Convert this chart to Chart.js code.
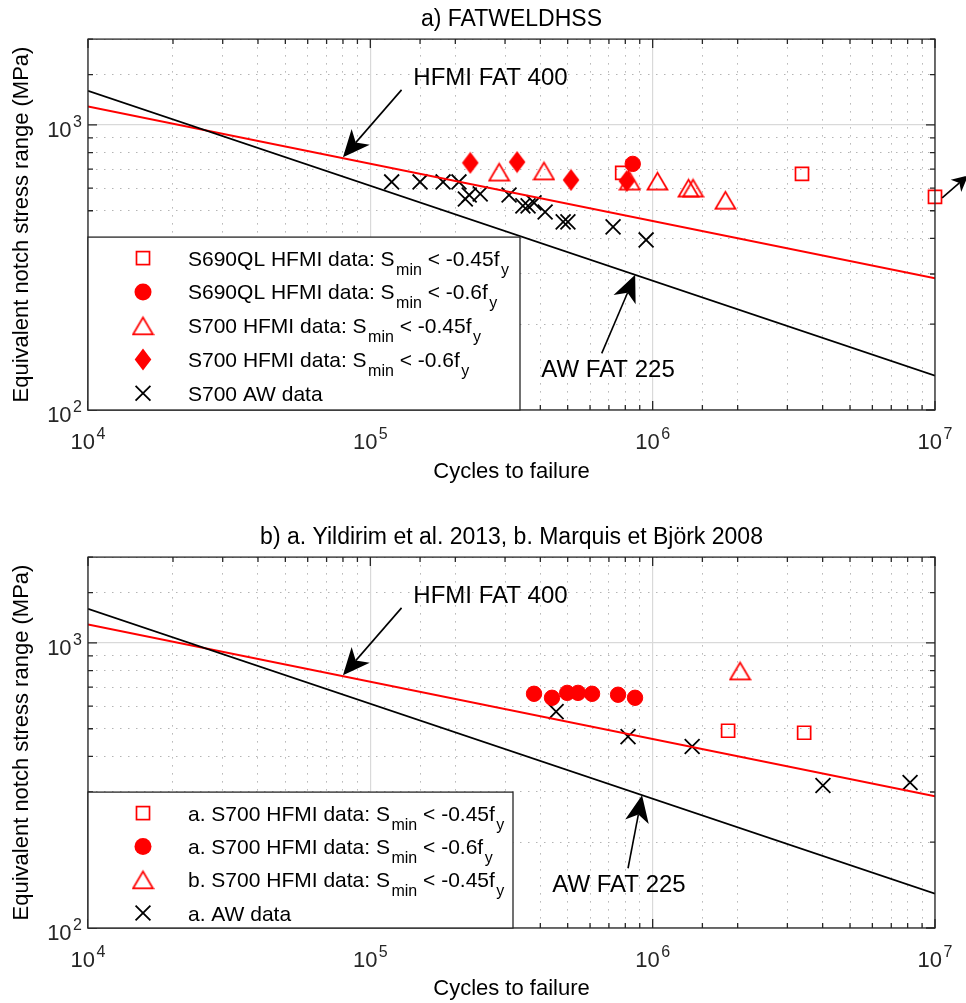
<!DOCTYPE html>
<html>
<head>
<meta charset="utf-8">
<title>Equivalent notch stress range vs cycles to failure</title>
<script src="https://cdn.jsdelivr.net/npm/chart.js@4.4.1/dist/chart.umd.min.js"></script>
<style>
html,body{margin:0;padding:0;background:#ffffff;}
body{width:966px;height:1003px;position:relative;overflow:hidden;}
canvas{position:absolute;left:0;display:block;}
#c1{top:0;}
#c2{top:518px;}
</style>
</head>
<body>
<canvas id="c1" width="966" height="518"></canvas>
<canvas id="c2" width="966" height="485"></canvas>
<script>
// ---------------- data ----------------
const xDecades = [1e4, 1e5, 1e6, 1e7];
const xTickLabels = [['10','4'], ['10','5'], ['10','6'], ['10','7']];
const yDecades = [1e2, 1e3];
const yTickLabels = [['10','2'], ['10','3']];

const xAxisTitle = 'Cycles to failure';
const yAxisTitle = 'Equivalent notch stress range (MPa)';

// design curves (end points)
const hfmiFat400 = [[1e4, 1160], [1e7, 290]];
const awFat225 = [[1e4, 1318], [1e7, 132]];

// panel a) FATWELDHSS
const aTitle = 'a) FATWELDHSS';
const aS690qlHfmi045 = [[7.8e5, 679], [3.38e6, 673], [1e7, 559]];
const aS690qlHfmi06 = [[8.5e5, 730]];
const aS700Hfmi045 = [[2.86e5, 684], [4.12e5, 690], [8.3e5, 636], [1.04e6, 636], [1.34e6, 601], [1.39e6, 601], [1.81e6, 545]];
const aS700Hfmi06 = [[2.26e5, 736], [3.31e5, 741], [5.14e5, 641], [8.1e5, 636]];
const aS700Aw = [[1.19e5, 631], [1.50e5, 631], [1.81e5, 631], [2.06e5, 631], [2.17e5, 550], [2.24e5, 568], [2.45e5, 573], [3.10e5, 568], [3.47e5, 520], [3.62e5, 520], [3.80e5, 533], [4.16e5, 495], [4.82e5, 457], [5.01e5, 457], [7.24e5, 439], [9.48e5, 395]];
const aLegendLabels = [
  ['S690QL HFMI data: S', 'min', ' < -0.45f', 'y'],
  ['S690QL HFMI data: S', 'min', ' < -0.6f', 'y'],
  ['S700 HFMI data: S', 'min', ' < -0.45f', 'y'],
  ['S700 HFMI data: S', 'min', ' < -0.6f', 'y'],
  ['S700 AW data']
];

// panel b) Yildirim 2013 / Marquis & Björk 2008
const bTitle = 'b) a. Yildirim et al. 2013, b. Marquis et Björk 2008';
const bS700Hfmi045 = [[1.85e6, 492], [3.44e6, 484]];
const bS700Hfmi06 = [[3.8e5, 663], [4.4e5, 642], [4.98e5, 668], [5.44e5, 668], [6.1e5, 663], [7.54e5, 658], [8.66e5, 642]];
const bS700Hfmi045b = [[2.04e6, 798]];
const bAw = [[4.55e5, 574], [8.18e5, 469], [1.38e6, 433], [4.01e6, 316], [8.16e6, 324]];
const bLegendLabels = [
  ['a. S700 HFMI data: S', 'min', ' < -0.45f', 'y'],
  ['a. S700 HFMI data: S', 'min', ' < -0.6f', 'y'],
  ['b. S700 HFMI data: S', 'min', ' < -0.45f', 'y'],
  ['a. AW data']
];

// annotation texts
const hfmiText = 'HFMI FAT 400';
const awText = 'AW FAT 225';

// ---------------- styles ----------------
const FONT = "'Liberation Sans', Arial, Helvetica, sans-serif";
const RED = '#ff0000';
const AXIS = '#262626';

function makeDiamond() {
  const c = document.createElement('canvas'); c.width = 18; c.height = 23;
  const g = c.getContext('2d'); g.fillStyle = RED;
  g.beginPath(); g.moveTo(9, 0.5); g.lineTo(17.3, 11.5); g.lineTo(9, 22.5); g.lineTo(0.7, 11.5); g.closePath(); g.fill();
  return c;
}
function makeTriangle() {
  const c = document.createElement('canvas'); c.width = 23; c.height = 21;
  const g = c.getContext('2d'); g.strokeStyle = RED; g.lineWidth = 1.7;
  g.beginPath(); g.moveTo(11.5, 2.2); g.lineTo(21.5, 19.2); g.lineTo(1.5, 19.2); g.closePath(); g.stroke();
  return c;
}
const DIAMOND = makeDiamond();
const TRIANGLE = makeTriangle();

const MARK = {
  square:   {style: 'rect', radius: 9.2, stroke: RED, fill: 'rgba(0,0,0,0)', width: 1.7},
  circle:   {style: 'circle', radius: 7.7, stroke: RED, fill: RED, width: 1},
  triangle: {style: TRIANGLE, radius: 8, stroke: RED, fill: 'rgba(0,0,0,0)', width: 1},
  diamond:  {style: DIAMOND, radius: 8, stroke: RED, fill: RED, width: 1},
  cross:    {style: 'crossRot', radius: 10.5, stroke: '#000000', fill: 'rgba(0,0,0,0)', width: 1.8}
};

function isDecade(v) { const l = Math.log10(v); return Math.abs(l - Math.round(l)) < 1e-6; }
function toXY(arr) { return arr.map(p => ({x: p[0], y: p[1]})); }
function lineDs(label, arr, color, w) {
  return {type: 'line', label, data: toXY(arr), borderColor: color, borderWidth: w, pointRadius: 0, fill: false, tension: 0};
}
function markDs(label, arr, key) {
  const m = MARK[key];
  return {type: 'scatter', label, data: toXY(arr), pointStyle: m.style, pointRadius: m.radius,
    pointBorderColor: m.stroke, pointBackgroundColor: m.fill, pointBorderWidth: m.width, clip: false};
}

// legend marker drawing (same shapes as the plot markers)
function drawMarker(ctx, key, x, y) {
  const m = MARK[key];
  ctx.save();
  if (key === 'diamond' || key === 'triangle') {
    ctx.drawImage(m.style, x - m.style.width / 2, y - m.style.height / 2);
  } else if (key === 'square') {
    const s = Math.SQRT1_2 * m.radius;
    ctx.strokeStyle = m.stroke; ctx.lineWidth = m.width; ctx.strokeRect(x - s, y - s, 2 * s, 2 * s);
  } else if (key === 'circle') {
    ctx.fillStyle = m.fill; ctx.beginPath(); ctx.arc(x, y, m.radius + 0.8, 0, Math.PI * 2); ctx.fill();
  } else {
    const s = Math.SQRT1_2 * m.radius;
    ctx.strokeStyle = m.stroke; ctx.lineWidth = m.width; ctx.beginPath();
    ctx.moveTo(x - s, y - s); ctx.lineTo(x + s, y + s); ctx.moveTo(x - s, y + s); ctx.lineTo(x + s, y - s); ctx.stroke();
  }
  ctx.restore();
}

function drawRich(ctx, parts, x, cy) {
  const base = cy + 7.5;
  ctx.fillStyle = '#000'; ctx.textAlign = 'left'; ctx.textBaseline = 'alphabetic';
  parts.forEach((s, i) => {
    const sub = i % 2 === 1;
    ctx.font = (sub ? '16px ' : '21px ') + FONT;
    if (sub) x += 1.5;
    ctx.fillText(s, x, sub ? base + 9 : base);
    x += ctx.measureText(s).width;
  });
}

function drawPow(ctx, pair, x, cy, align) {
  ctx.font = '22px ' + FONT; const wb = ctx.measureText(pair[0]).width;
  ctx.font = '16px ' + FONT; const we = ctx.measureText(pair[1]).width;
  const gap = 1.5, total = wb + gap + we;
  const x0 = align === 'center' ? x - total / 2 : x - total;
  ctx.fillStyle = AXIS; ctx.textAlign = 'left'; ctx.textBaseline = 'alphabetic';
  ctx.font = '22px ' + FONT; ctx.fillText(pair[0], x0, cy + 7.9);
  ctx.font = '16px ' + FONT; ctx.fillText(pair[1], x0 + wb + gap, cy - 2.5);
}

function drawArrow(ctx, t0, t1, L, W) {
  const dx = t1[0] - t0[0], dy = t1[1] - t0[1], len = Math.hypot(dx, dy);
  const ux = dx / len, uy = dy / len, nx = -uy, ny = ux;
  const bx = t1[0] - ux * L, by = t1[1] - uy * L;
  const mx = t1[0] - ux * L * 0.72, my = t1[1] - uy * L * 0.72;
  ctx.beginPath(); ctx.moveTo(t0[0], t0[1]); ctx.lineTo(mx, my); ctx.stroke();
  ctx.beginPath(); ctx.moveTo(t1[0], t1[1]); ctx.lineTo(bx + nx * W, by + ny * W); ctx.lineTo(mx, my);
  ctx.lineTo(bx - nx * W, by - ny * W); ctx.closePath(); ctx.fill();
}

function makeDecor(p) {
  return {
    id: 'decor',
    afterDatasetsDraw(chart) {
      const {ctx, chartArea: a} = chart; const xs = chart.scales.x, ys = chart.scales.y;
      ctx.save();
      ctx.strokeStyle = AXIS; ctx.lineWidth = 1.3;
      ctx.beginPath();
      xs.ticks.forEach(t => {
        const px = xs.getPixelForValue(t.value), L = isDecade(t.value) ? 9 : 5;
        ctx.moveTo(px, a.bottom); ctx.lineTo(px, a.bottom - L);
        ctx.moveTo(px, a.top); ctx.lineTo(px, a.top + L);
      });
      ys.ticks.forEach(t => {
        const py = ys.getPixelForValue(t.value), L = isDecade(t.value) ? 9 : 5;
        ctx.moveTo(a.left, py); ctx.lineTo(a.left + L, py);
        ctx.moveTo(a.right, py); ctx.lineTo(a.right - L, py);
      });
      ctx.stroke();
      ctx.strokeRect(a.left, a.top, a.right - a.left, a.bottom - a.top);
      ctx.restore();
    },
    afterDraw(chart) {
      const {ctx, chartArea: a} = chart; const xs = chart.scales.x, ys = chart.scales.y;
      ctx.save();
      // tick labels with superscript exponents
      xDecades.forEach((v, i) => drawPow(ctx, xTickLabels[i], xs.getPixelForValue(v), a.bottom + 31, 'center'));
      yDecades.forEach((v, i) => drawPow(ctx, yTickLabels[i], a.left - 6, ys.getPixelForValue(v) + 4.5, 'right'));
      // legend
      const L = p.legend;
      const bx = a.left, by = a.top + L.top, bw = L.width, bh = a.bottom - by;
      ctx.fillStyle = '#fff'; ctx.fillRect(bx, by, bw, bh);
      ctx.strokeStyle = AXIS; ctx.lineWidth = 1.3; ctx.strokeRect(bx, by, bw, bh);
      L.labels.forEach((parts, i) => {
        const ry = by + L.row0 + i * L.step;
        drawMarker(ctx, L.markers[i], bx + 55, ry);
        drawRich(ctx, parts, bx + 100, ry);
      });
      // annotations
      ctx.strokeStyle = '#000'; ctx.fillStyle = '#000'; ctx.lineWidth = 1.6;
      p.annotations.forEach(an => {
        const tip = [xs.getPixelForValue(an.tip[0]), ys.getPixelForValue(an.tip[1])];
        const tail = [xs.getPixelForValue(an.tail[0]), ys.getPixelForValue(an.tail[1])];
        drawArrow(ctx, tail, tip, an.head, an.half);
        if (an.text) {
          ctx.font = '24px ' + FONT; ctx.textAlign = an.align; ctx.textBaseline = 'middle'; ctx.fillStyle = '#000';
          ctx.fillText(an.text, xs.getPixelForValue(an.at[0]), ys.getPixelForValue(an.at[1]));
        }
      });
      ctx.restore();
    }
  };
}

const gridColor = c => (c.tick && isDecade(c.tick.value)) ? '#d9d9d9' : '#b4b4b4';
const gridWidth = c => (c.tick && isDecade(c.tick.value)) ? 1.2 : 1;
const gridDash = c => (c.tick && isDecade(c.tick.value)) ? [] : [1.5, 6.5];

function makeChart(p) {
  const datasets = [
    lineDs('AW FAT 225', awFat225, '#000000', 1.8),
    lineDs('HFMI FAT 400', hfmiFat400, RED, 2)
  ].concat(p.series.map(s => markDs(s.label, s.data, s.marker)));
  return new Chart(document.getElementById(p.id), {
    type: 'scatter',
    data: {datasets},
    options: {
      responsive: false, animation: false, events: [],
      layout: {padding: {left: 0, right: 31, top: 0, bottom: 0}},
      plugins: {
        legend: {display: false}, tooltip: {enabled: false},
        title: {display: true, text: p.title, fullSize: false, color: '#000',
          font: {family: FONT, size: 23, weight: 'normal', lineHeight: 1.2}, padding: {top: 6, bottom: 5.5}}
      },
      scales: {
        x: {type: 'logarithmic', position: 'bottom', min: 1e4, max: 1e7,
          afterFit(s) { s.height = p.xAxisHeight; },
          ticks: {display: false, autoSkip: false},
          grid: {drawTicks: false, color: gridColor, lineWidth: gridWidth},
          border: {display: false, dash: gridDash},
          title: {display: true, text: xAxisTitle, color: '#000', font: {family: FONT, size: 22, lineHeight: 1.2}, padding: {top: 0, bottom: p.xTitlePad}}},
        y: {type: 'logarithmic', position: 'left', min: 100, max: 2000,
          afterFit(s) { s.width = 88; },
          ticks: {display: false, autoSkip: false},
          grid: {drawTicks: false, color: gridColor, lineWidth: gridWidth},
          border: {display: false, dash: gridDash},
          title: {display: true, text: yAxisTitle, color: '#000', font: {family: FONT, size: 22, lineHeight: 1.2}, padding: {top: 9, bottom: 0}}}
      }
    },
    plugins: [makeDecor(p)]
  });
}

makeChart({
  id: 'c1', title: aTitle, xAxisHeight: 108, xTitlePad: 32.8,
  series: [
    {label: 'S690QL HFMI data: Smin < -0.45fy', data: aS690qlHfmi045, marker: 'square'},
    {label: 'S690QL HFMI data: Smin < -0.6fy', data: aS690qlHfmi06, marker: 'circle'},
    {label: 'S700 HFMI data: Smin < -0.45fy', data: aS700Hfmi045, marker: 'triangle'},
    {label: 'S700 HFMI data: Smin < -0.6fy', data: aS700Hfmi06, marker: 'diamond'},
    {label: 'S700 AW data', data: aS700Aw, marker: 'cross'}
  ],
  legend: {top: 198, width: 432, row0: 21, step: 33.8, labels: aLegendLabels,
    markers: ['square', 'circle', 'triangle', 'diamond', 'cross']},
  annotations: [
    {text: hfmiText, at: [1.42e5, 1460], align: 'left', tail: [1.29e5, 1327], tip: [8.0e4, 770], head: 27, half: 12},
    {text: awText, at: [6.95e5, 138], align: 'center', tail: [6.6e5, 158], tip: [8.67e5, 298], head: 27, half: 12},
    {text: null, tail: [1.06e7, 555], tip: [1.31e7, 665], head: 16, half: 8}
  ]
});

makeChart({
  id: 'c2', title: bTitle, xAxisHeight: 75, xTitlePad: 0.8,
  series: [
    {label: 'a. S700 HFMI data: Smin < -0.45fy', data: bS700Hfmi045, marker: 'square'},
    {label: 'a. S700 HFMI data: Smin < -0.6fy', data: bS700Hfmi06, marker: 'circle'},
    {label: 'b. S700 HFMI data: Smin < -0.45fy', data: bS700Hfmi045b, marker: 'triangle'},
    {label: 'a. AW data', data: bAw, marker: 'cross'}
  ],
  legend: {top: 235, width: 425, row0: 21, step: 33.3, labels: bLegendLabels,
    markers: ['square', 'circle', 'triangle', 'cross']},
  annotations: [
    {text: hfmiText, at: [1.42e5, 1460], align: 'left', tail: [1.29e5, 1327], tip: [8.0e4, 770], head: 27, half: 12},
    {text: awText, at: [7.6e5, 141], align: 'center', tail: [8.18e5, 162], tip: [9.17e5, 292], head: 27, half: 12}
  ]
});
</script>
</body>
</html>
